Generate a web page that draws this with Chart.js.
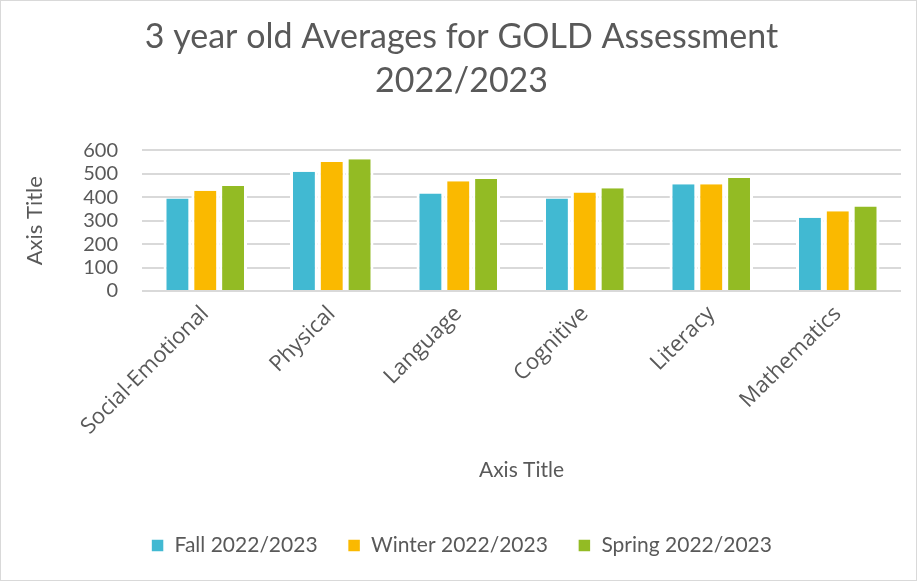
<!DOCTYPE html>
<html>
<head>
<meta charset="utf-8">
<script src="https://cdn.jsdelivr.net/npm/chart.js@4"></script>
<style>
  body { margin: 0; background: #fff; }
  #wrap { width: 917px; height: 581px; }
</style>
</head>
<body>
<div id="wrap"><canvas id="goldChart" width="917" height="581"></canvas></div>
<script>
// data
const categories = ["Social-Emotional", "Physical", "Language", "Cognitive", "Literacy", "Mathematics"];
const fallValues = [395, 509, 416, 395, 456, 313];
const winterValues = [428, 551, 468, 420, 456, 340];
const springValues = [448, 562, 478, 439, 482, 361];
const seriesNames = ["Fall 2022/2023", "Winter 2022/2023", "Spring 2022/2023"];
const yMax = 600;
const yStep = 100;

const textColor = "#595959";
const fontFamily = "Lato, 'Open Sans', sans-serif";

// white background + thin frame like the office chart
const framePlugin = {
  id: "frame",
  beforeDraw(chart) {
    const c = chart.ctx;
    c.save();
    c.fillStyle = "#fff";
    c.fillRect(0, 0, chart.width, chart.height);
    c.strokeStyle = "#d9d9d9";
    c.lineWidth = 1;
    c.strokeRect(0.5, 0.5, chart.width - 1, chart.height - 1);
    c.restore();
  }
};

function makeSet(label, data, color) {
  return {
    label: label,
    data: data,
    backgroundColor: color,
    borderColor: "#fff",
    borderWidth: { left: 3, right: 3, top: 0, bottom: 0 },
    borderSkipped: false,
    categoryPercentage: 0.66,
    barPercentage: 1
  };
}

const ctx = document.getElementById("goldChart").getContext("2d");
new Chart(ctx, {
  type: "bar",
  data: {
    labels: categories,
    datasets: [
      makeSet(seriesNames[0], fallValues, "#41B9D2"),
      makeSet(seriesNames[1], winterValues, "#FAB900"),
      makeSet(seriesNames[2], springValues, "#93BB24")
    ]
  },
  options: {
    responsive: false,
    animation: false,
    layout: { padding: { top: 15, left: 22, right: 16, bottom: 15 } },
    plugins: {
      title: {
        display: true,
        text: ["3 year old Averages for GOLD Assessment", "2022/2023"],
        color: textColor,
        font: { family: fontFamily, size: 34, weight: "normal", lineHeight: 1.3 },
        padding: { top: 0, bottom: 47 }
      },
      legend: {
        position: "bottom",
        labels: {
          color: textColor,
          font: { family: fontFamily, size: 21 },
          boxWidth: 13,
          boxHeight: 13,
          padding: 30
        }
      },
      tooltip: { enabled: false }
    },
    scales: {
      x: {
        grid: { display: false, drawTicks: false },
        border: { display: false },
        ticks: {
          color: textColor,
          font: { family: "'Open Sans', sans-serif", size: 22 },
          minRotation: 45,
          maxRotation: 45,
          padding: 10
        },
        title: {
          display: true,
          text: "Axis Title",
          color: textColor,
          font: { family: fontFamily, size: 21 },
          padding: { top: 0, bottom: 22 }
        },
        afterFit(scale) { scale.height = 214; }
      },
      y: {
        min: 0,
        max: yMax,
        grid: { color: "#d9d9d9", lineWidth: 2, drawTicks: false },
        border: { display: false },
        ticks: {
          stepSize: yStep,
          autoSkip: false,
          color: textColor,
          font: { family: fontFamily, size: 20 },
          padding: 24
        },
        title: {
          display: true,
          text: "Axis Title",
          color: textColor,
          font: { family: fontFamily, size: 22 },
          padding: { top: 0, bottom: 0 }
        },
        afterFit(scale) { scale.width = 120; }
      }
    }
  },
  plugins: [framePlugin]
});
</script>
</body>
</html>
